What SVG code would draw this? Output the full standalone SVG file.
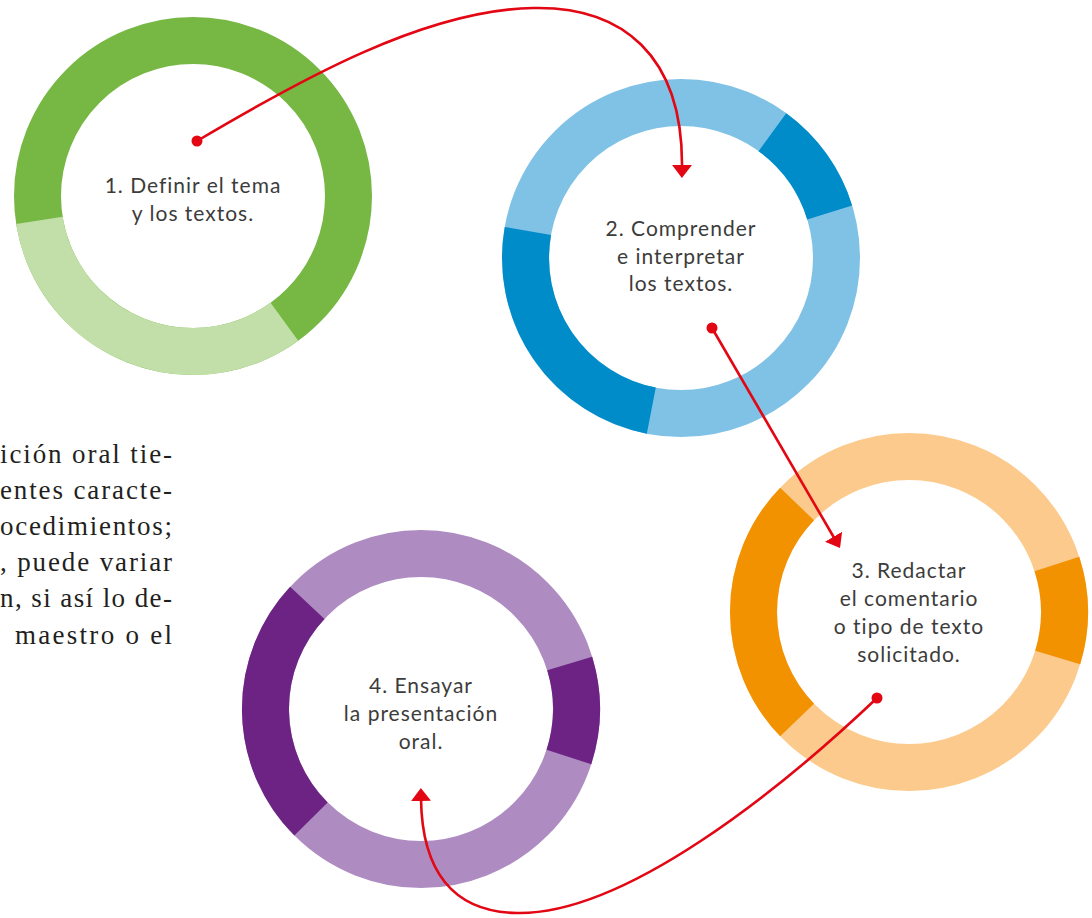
<svg xmlns="http://www.w3.org/2000/svg" width="1092" height="918" viewBox="0 0 1092 918">
<style>
.ring{fill:none;stroke-width:47}
.lbl{font-family:Lato,"Open Sans",sans-serif;font-size:21px;fill:#3c3c3b;text-anchor:middle;letter-spacing:1px}
.para{font-family:"Liberation Serif","DejaVu Serif",serif;font-size:27px;fill:#231f20;text-anchor:end}
.conn{fill:none;stroke:#e30613;stroke-width:2.6}
.dot{fill:#e30613}
</style>
<defs>
<marker id="ah" markerUnits="userSpaceOnUse" viewBox="0 0 13 20" markerWidth="13" markerHeight="20" refX="2" refY="10" orient="auto">
<path d="M0,0 L13,10 L0,20 z" fill="#e30613"/>
</marker>
</defs>
<rect width="1092" height="918" fill="#fff"/>
<g id="paragraph">
<text class="para" x="172" y="463" textLength="172" lengthAdjust="spacing">ición oral tie-</text>
<text class="para" x="172" y="499" textLength="172" lengthAdjust="spacing">entes caracte-</text>
<text class="para" x="172" y="535" textLength="172" lengthAdjust="spacing">ocedimientos;</text>
<text class="para" x="172" y="571" textLength="172" lengthAdjust="spacing">, puede variar</text>
<text class="para" x="172" y="607" textLength="172" lengthAdjust="spacing">n, si así lo de-</text>
<text class="para" x="172" y="644" textLength="157" lengthAdjust="spacing">maestro o el</text>
</g>
<g id="node1">
<circle class="ring" cx="193" cy="196" r="155.5" stroke="#77b743"/>
<path class="ring" d="M284.4,321.8 A155.5,155.5 0 0 1 39.4,220.3" stroke="#c2dfa9"/>
<text class="lbl" x="193" y="193">1. Definir el tema</text>
<text class="lbl" x="193" y="221">y los textos.</text>
</g>
<g id="node2">
<circle class="ring" cx="681" cy="258" r="155.5" stroke="#7fc2e5"/>
<path class="ring" d="M772.4,132.2 A155.5,155.5 0 0 1 829.7,212.5" stroke="#008bc9"/>
<path class="ring" d="M651.3,410.6 A155.5,155.5 0 0 1 527.9,231" stroke="#008bc9"/>
<text class="lbl" x="681" y="236">2. Comprender</text>
<text class="lbl" x="681" y="264">e interpretar</text>
<text class="lbl" x="681" y="291">los textos.</text>
</g>
<g id="node3">
<circle class="ring" cx="909" cy="612" r="155.5" stroke="#fcca8c"/>
<path class="ring" d="M797.1,720 A155.5,155.5 0 0 1 797.1,504" stroke="#f39200"/>
<path class="ring" d="M1056.9,564 A155.5,155.5 0 0 1 1057.7,657.5" stroke="#f39200"/>
<text class="lbl" x="909" y="578">3. Redactar</text>
<text class="lbl" x="909" y="606">el comentario</text>
<text class="lbl" x="909" y="634">o tipo de texto</text>
<text class="lbl" x="909" y="662">solicitado.</text>
</g>
<g id="node4">
<circle class="ring" cx="421" cy="709" r="155.5" stroke="#ae8cc1"/>
<path class="ring" d="M311,819 A155.5,155.5 0 0 1 307.3,602.9" stroke="#6c2383"/>
<path class="ring" d="M569.7,663.5 A155.5,155.5 0 0 1 568.9,757" stroke="#6c2383"/>
<text class="lbl" x="421" y="693">4. Ensayar</text>
<text class="lbl" x="421" y="721">la presentación</text>
<text class="lbl" x="421" y="749">oral.</text>
</g>
<g id="connectors">
<path class="conn" d="M197,141 C300,80 425,10 533,8 C622,6 683,55 682,167" marker-end="url(#ah)"/>
<circle class="dot" cx="197" cy="141" r="5.5"/>
<path class="conn" d="M712,328 L834.5,538.5" marker-end="url(#ah)"/>
<circle class="dot" cx="712" cy="328" r="5.5"/>
<path class="conn" d="M877,698 C780,790 625,915 517,913 C452,912 422,870 421,799" marker-end="url(#ah)"/>
<circle class="dot" cx="877" cy="698" r="5.5"/>
</g>
</svg>
